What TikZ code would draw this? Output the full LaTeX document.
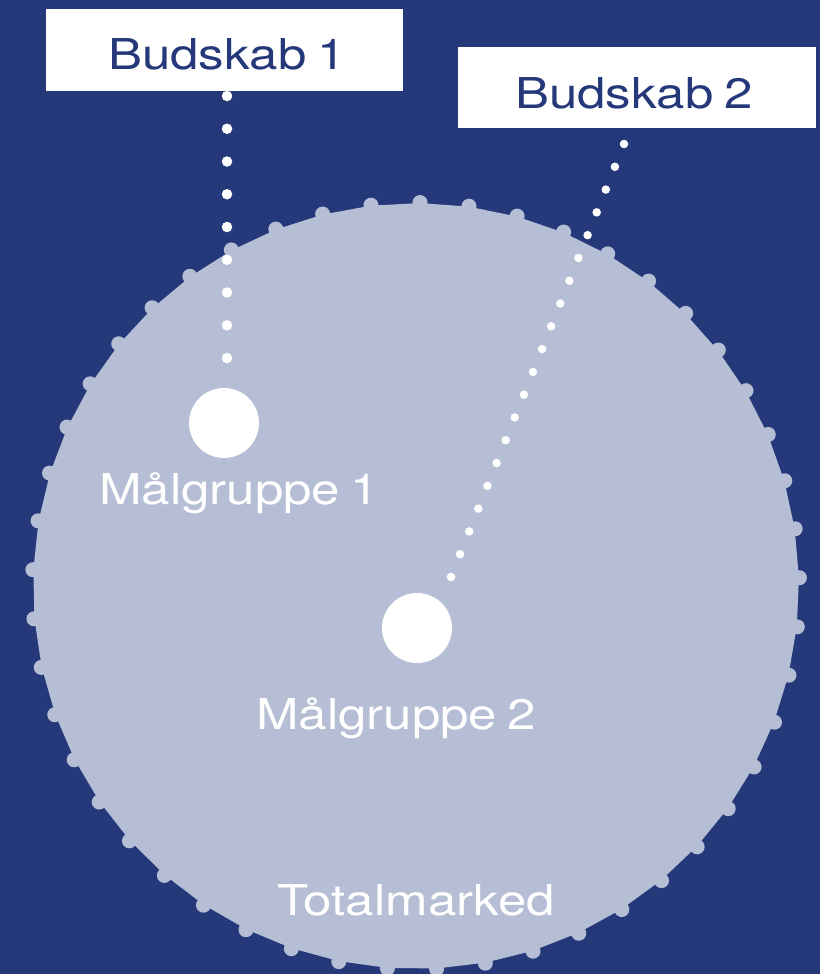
\documentclass[tikz,border=0pt]{standalone}
\usepackage{fontspec}
\newfontfamily\labelfont[FakeStretch=1.2,WordSpace=0.75]{TeX Gyre Heros}
\definecolor{navy}{RGB}{37,57,122}
\definecolor{market}{RGB}{181,190,212}
\tikzset{
  lbl/.style={inner sep=0pt, anchor=base west, font=\labelfont\fontsize{42.5}{50}\selectfont},
  boxlbl/.style={lbl, text=navy},
  grouplbl/.style={lbl, text=white},
  msgbox/.style={fill=white, draw=none},
  target/.style={circle, fill=white, minimum size=70pt, inner sep=0pt},
  dotline/.style={draw=white, line width=#1, line cap=round},
}
\begin{document}
\begin{tikzpicture}[x=1pt,y=-1pt]
  % canvas
  \fill[navy] (0,0) rectangle (820,974);
  \useasboundingbox (0,0) rectangle (820,974);

  % total market: 49-sided disc with a knob at every corner (step 360/49 deg)
  \begin{scope}[shift={(416,586)}]
    \fill[market] (-89.4:383)
      \foreach \k in {1,...,48} { -- ({-89.4+\k*7.346939}:383) } -- cycle;
    \foreach \k in {0,...,48} {
      \fill[market] ({-89.4+\k*7.346939}:383.5) circle[radius=7.5];
    }
  \end{scope}

  % message boxes
  \path[msgbox] (46,9) rectangle (403,91);
  \path[msgbox] (458,47) rectangle (816,128);
  \node[boxlbl] (box1) at (108,70) {Budskab 1};
  \node[boxlbl] (box2) at (515,108) {Budskab 2};

  % target groups
  \node[target] (t1) at (224,423) {};
  \node[target] (t2) at (417,628) {};

  % dotted links from messages to groups
  \coordinate (l1a) at (227,96);
  \coordinate (l1b) at (227,359);
  \coordinate (l2a) at (624,144);
  \coordinate (l2b) at (450.6,578);
  \draw[dotline=10.5pt, dash pattern=on 0pt off 32.75pt] (l1a) -- (l1b);
  \draw[dotline=8.5pt, dash pattern=on 0pt off 24.54pt] (l2a) -- (l2b);

  % labels
  \node[grouplbl] (g1) at (99,504) {Målgruppe 1};
  \node[grouplbl] (g2) at (256,729) {Målgruppe 2};
  \node[grouplbl] (tm) at (277,915) {Totalmarked};
\end{tikzpicture}
\end{document}
